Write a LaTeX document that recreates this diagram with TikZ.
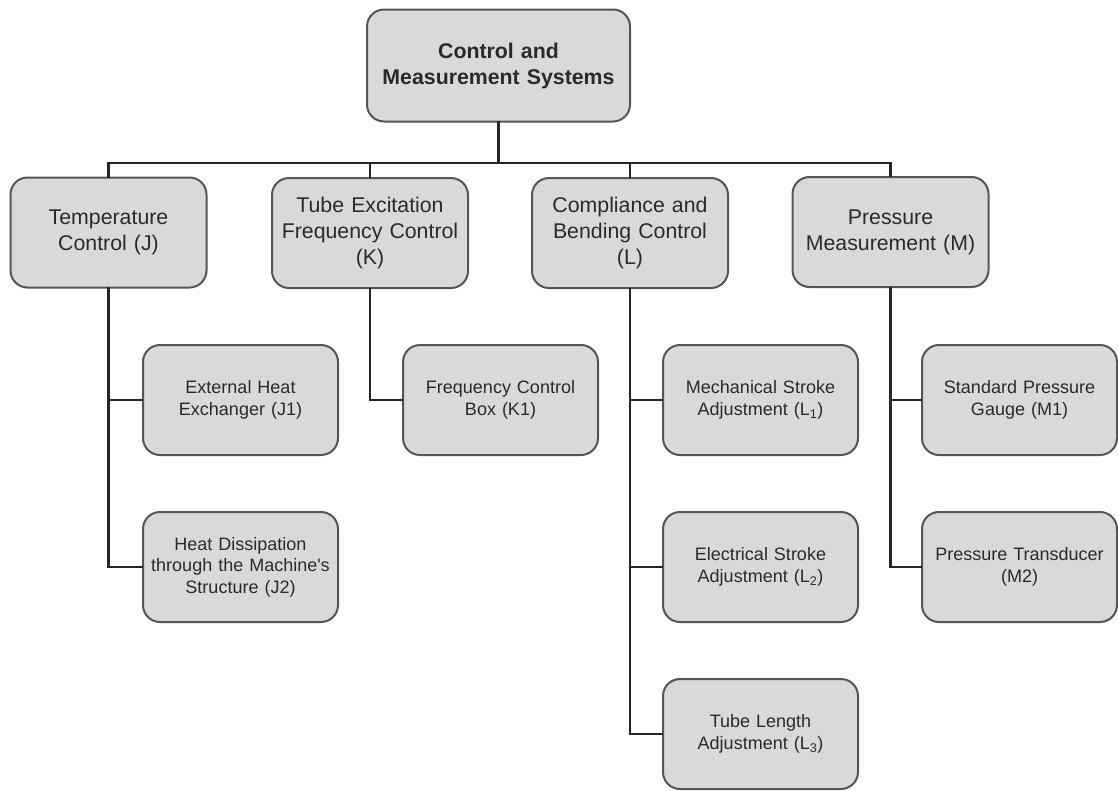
\documentclass[tikz,border=0pt]{standalone}
\usepackage{fontspec}
\setmainfont{Liberation Sans}
\usetikzlibrary{positioning}
\definecolor{boxfill}{HTML}{D9D9D9}
\definecolor{boxline}{HTML}{555555}
\definecolor{conn}{HTML}{252525}
\definecolor{txt}{HTML}{2A2A2A}
\tikzset{
  basebox/.style={draw=boxline, line width=2pt, fill=boxfill, rounded corners=17pt,
    align=center, inner sep=0pt, text=txt},
  topbox/.style={basebox, minimum width=263pt, minimum height=112pt, text width=255pt,
    font=\fontsize{21.3}{26}\selectfont\bfseries},
  lvlbox/.style={basebox, minimum width=196pt, minimum height=110pt, text width=190pt,
    font=\fontsize{21.3}{26}\selectfont},
  leafbox/.style={basebox, minimum width=195pt, minimum height=110pt, text width=190pt,
    font=\fontsize{18}{21.5}\selectfont},
  link/.style={draw=conn, line width=2.8pt, line cap=rect}
}
\begin{document}
\begin{tikzpicture}[x=1pt,y=1pt]
\useasboundingbox (0,0) rectangle (1118,-790);
% top
\node[topbox] (top) at (498.5,-65.5) {Control and\\Measurement Systems};
% level 1
\node[lvlbox] (J) at (108.5,-232.5) {Temperature\\Control (J)};
\node[lvlbox] (K) at (370,-233) {Tube Excitation\\Frequency Control\\(K)};
\node[lvlbox] (L) at (630,-233) {Compliance and\\Bending Control\\(L)};
\node[lvlbox] (M) at (890.5,-232) {Pressure\\Measurement (M)};
% leaves
\node[leafbox] (J1) at (240.5,-400) {External Heat\\Exchanger (J1)};
\node[leafbox] (J2) at (240.5,-567) {Heat Dissipation\\through the Machine\textquotesingle s\\Structure (J2)};
\node[leafbox] (K1) at (500.5,-400) {Frequency Control\\Box (K1)};
\node[leafbox] (L1) at (760.5,-400) {Mechanical Stroke\\Adjustment (L\textsubscript{1})};
\node[leafbox] (L2) at (760.5,-567) {Electrical Stroke\\Adjustment (L\textsubscript{2})};
\node[leafbox] (L3) at (760.5,-734) {Tube Length\\Adjustment (L\textsubscript{3})};
\node[leafbox] (M1) at (1019.5,-400) {Standard Pressure\\Gauge (M1)};
\node[leafbox] (M2) at (1019.5,-567) {Pressure Transducer\\(M2)};
% bus
\coordinate (bus) at (0,-163);
\draw[link] (top.south) -- (top.south |- bus);
\draw[link] (J.north) -- (J.north |- bus) -- (M.north |- bus) -- (M.north);
\draw[link] (K.north) -- (K.north |- bus);
\draw[link] (L.north) -- (L.north |- bus);
% children
\draw[link] (J.south) |- (J1.west);
\draw[link] (J.south) |- (J2.west);
\draw[link] (K.south) |- (K1.west);
\draw[link] (L.south) |- (L1.west);
\draw[link] (L.south) |- (L2.west);
\draw[link] (L.south) |- (L3.west);
\draw[link] (M.south) |- (M1.west);
\draw[link] (M.south) |- (M2.west);
\end{tikzpicture}
\end{document}
